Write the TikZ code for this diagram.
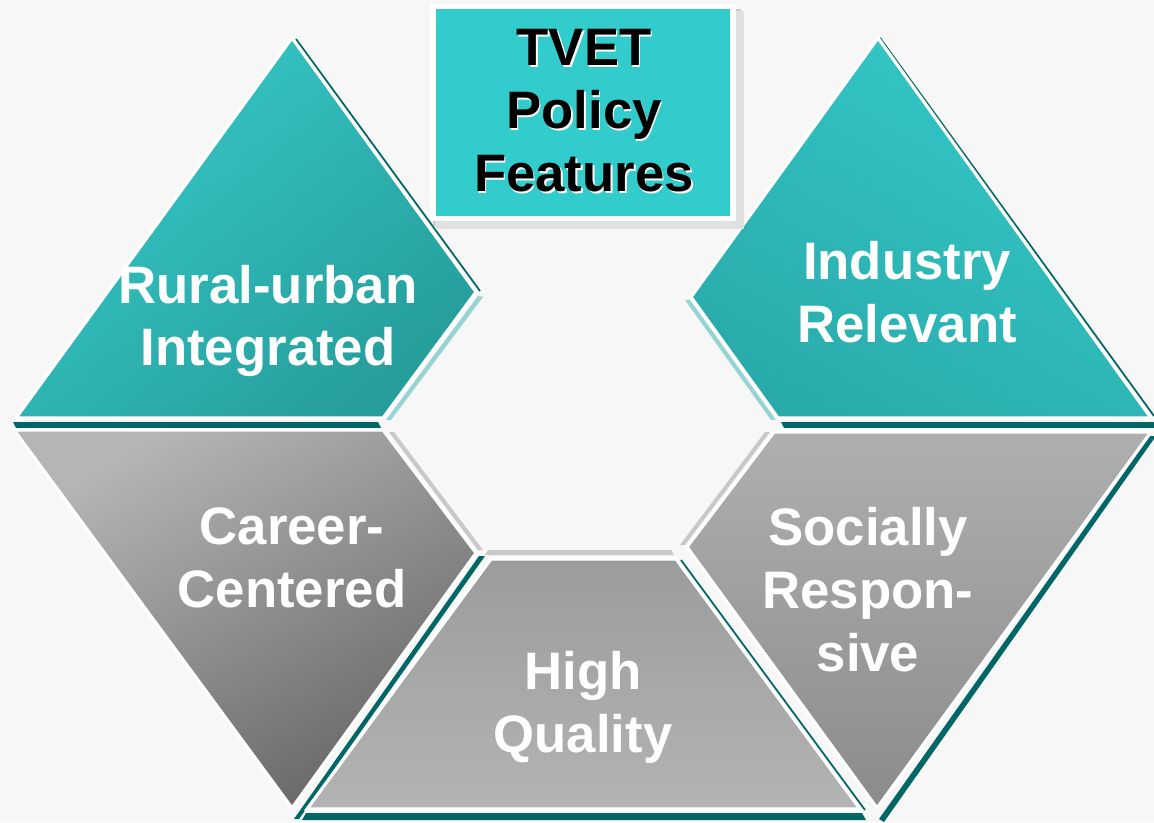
\documentclass[tikz,border=0pt]{standalone}
\usepackage{fontspec}
\setmainfont{Liberation Sans}

\definecolor{bgcolor}{RGB}{247,247,247}
\definecolor{tealbox}{RGB}{51,204,204}
\definecolor{darkteal}{RGB}{0,102,102}
\definecolor{lightteal}{RGB}{150,212,212}
\definecolor{sidegrey}{RGB}{200,200,200}

\begin{document}
\begin{tikzpicture}[
	piece/.style = {draw = white, line width = 0.9pt, line join = miter},
	darkside/.style = {fill = darkteal},
	tealside/.style = {fill = lightteal},
	greyside/.style = {fill = sidegrey},
	feature/.style = {white, font = \bfseries\fontsize{15}{17.9}\selectfont, align = center, inner sep = 0pt},
	heading/.style = {black, font = \bfseries\fontsize{15}{17.9}\selectfont, align = center, inner sep = 0pt}
]
	\useasboundingbox (0, 0) rectangle (11.54, 8.22);
	\fill[bgcolor] (0, 0) rectangle (11.54, 8.22);

	% side strips under the six pieces
	\fill[darkside] (0.13, 4.00) -- (3.78, 4.00) -- (3.81, 3.94) -- (0.16, 3.94) -- cycle;
	\fill[tealside] (4.78, 5.26) -- (4.83, 5.25) -- (3.91, 4.02) -- (3.86, 4.02) -- cycle;
	\draw[darkteal, line width = 0.5pt] (2.96, 7.83) -- (4.80, 5.31);

	\fill[darkside] (7.81, 4.00) -- (11.54, 4.00) -- (11.54, 3.94) -- (7.84, 3.94) -- cycle;
	\fill[tealside] (6.85, 5.22) -- (6.90, 5.22) -- (7.76, 4.02) -- (7.71, 4.02) -- cycle;
	\draw[darkteal, line width = 0.5pt] (8.80, 7.84) -- (11.54, 4.06);

	\fill[greyside] (3.89, 3.90) -- (3.94, 3.90) -- (4.83, 2.72) -- (4.78, 2.72) -- cycle;
	\fill[darkside] (4.79, 2.66) -- (4.85, 2.66) -- (2.99, 0.03) -- (2.94, 0.03) -- cycle;

	\fill[greyside] (4.88, 2.72) -- (6.71, 2.72) -- (6.74, 2.67) -- (4.85, 2.67) -- cycle;
	\fill[darkside] (3.06, 0.09) -- (8.62, 0.09) -- (8.66, 0.02) -- (3.02, 0.02) -- cycle;
	\draw[darkteal, line width = 0.5pt] (6.81, 2.62) -- (8.65, 0.12);

	\fill[greyside] (7.65, 3.90) -- (7.70, 3.90) -- (6.85, 2.77) -- (6.80, 2.77) -- cycle;
	\fill[darkside] (11.50, 3.86) -- (11.56, 3.86) -- (8.84, 0.00) -- (8.79, 0.03) -- cycle;

	% the six pieces of the hexagon
	\shadedraw[piece, top color = {rgb,255:red,54;green,201;blue,201}, bottom color = {rgb,255:red,38;green,158;blue,156}, shading angle = 40]
		(2.92, 7.84) -- (4.76, 5.30) -- (3.83, 4.04) -- (0.16, 4.04) -- cycle;
	\shadedraw[piece, top color = {rgb,255:red,52;green,200;blue,200}, bottom color = {rgb,255:red,42;green,171;blue,171}, shading angle = -30]
		(8.78, 7.84) -- (11.51, 4.04) -- (7.78, 4.04) -- (6.91, 5.25) -- cycle;
	\shadedraw[piece, top color = {rgb,255:red,181;green,181;blue,181}, bottom color = {rgb,255:red,103;green,103;blue,103}, shading angle = 30]
		(0.14, 3.92) -- (3.83, 3.92) -- (4.76, 2.69) -- (2.92, 0.14) -- cycle;
	\shadedraw[piece, top color = {rgb,255:red,156;green,156;blue,156}, bottom color = {rgb,255:red,179;green,179;blue,179}]
		(4.91, 2.63) -- (6.76, 2.63) -- (8.60, 0.13) -- (3.07, 0.13) -- cycle;
	\shadedraw[piece, top color = {rgb,255:red,175;green,175;blue,175}, bottom color = {rgb,255:red,139;green,139;blue,139}]
		(7.74, 3.90) -- (11.51, 3.90) -- (8.77, 0.14) -- (6.87, 2.75) -- cycle;

	\node[feature] (rural) at (2.68, 5.01) {Rural-urban\\Integrated};
	\node[feature] (industry) at (9.07, 5.30) {Industry\\Relevant};
	\node[feature] (career) at (2.92, 2.64) {Career-\\Centered};
	\node[feature] (quality) at (5.83, 1.15) {High\\Quality};
	\node[feature] (social) at (8.68, 2.32) {Socially\\Respon-\\sive};

	% heading box
	\fill[black!22] (4.33, 8.13) rectangle (7.41, 5.96);
	\fill[black!12] (4.35, 8.11) rectangle (7.44, 5.93);
	\node[fill = tealbox, draw = white, line width = 1.6pt, minimum width = 3.00cm, minimum height = 2.12cm] (titlebox) at (5.83, 7.095) {};
	\node[heading, white] (titleglow) at (5.855, 7.092) {TVET\\Policy\\Features};
	\node[heading] (title) at (5.84, 7.11) {TVET\\Policy\\Features};
\end{tikzpicture}
\end{document}
